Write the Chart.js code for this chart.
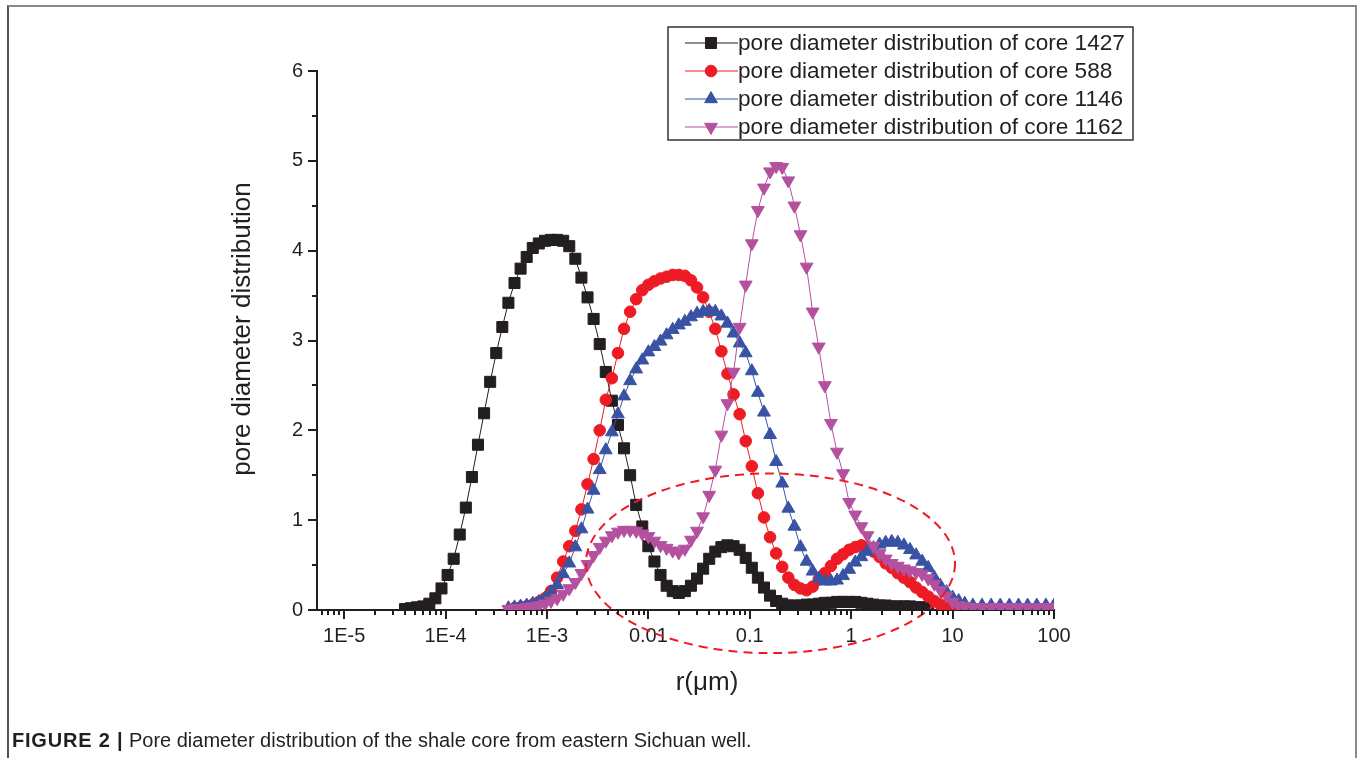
<!DOCTYPE html>
<html lang="en">
<head>
  <meta charset="UTF-8">
  <title>Pore diameter distribution</title>
  <script src="https://cdn.jsdelivr.net/npm/chart.js"></script>
  <style>
    body {
      margin: 0;
      background: #ffffff;
      font-family: 'Liberation Sans', Arial, sans-serif;
    }
    .page {
      position: relative;
      width: 1360px;
      height: 758px;
      overflow: hidden;
    }
    .frame {
      position: absolute;
      left: 7px;
      top: 5px;
      width: 1346px;
      height: 800px;
      border-top: 2px solid #8a8a8a;
      border-left: 2px solid #555;
      border-right: 2px solid #8a8a8a;
    }
    .chart-box {
      position: absolute;
      left: 0;
      top: 0;
      width: 1360px;
      height: 758px;
    }
    .caption {
      position: absolute;
      left: 12px;
      top: 729px;
      font-size: 20px;
      color: #231f20;
      white-space: nowrap;
    }
    .caption b { font-weight: bold; letter-spacing: 0.8px; }
  </style>
</head>
<body>
  <div class="page">
    <div class="frame"></div>
    <div class="chart-box"><canvas id="poreChart"></canvas></div>
    <div class="caption"><b>FIGURE 2 |</b> Pore diameter distribution of the shale core from eastern Sichuan well.</div>
  </div>

  <script>
    // pore radius grid, log10 of r in µm
    const rExp = [
      -4.40, -4.34, -4.28, -4.22, -4.16, -4.10, -4.04, -3.98, -3.92, -3.86,
      -3.80, -3.74, -3.68, -3.62, -3.56, -3.50, -3.44, -3.38, -3.32, -3.26,
      -3.20, -3.14, -3.08, -3.02, -2.96, -2.90, -2.84, -2.78, -2.72, -2.66,
      -2.60, -2.54, -2.48, -2.42, -2.36, -2.30, -2.24, -2.18, -2.12, -2.06,
      -2.00, -1.94, -1.88, -1.82, -1.76, -1.70, -1.64, -1.58, -1.52, -1.46,
      -1.40, -1.34, -1.28, -1.22, -1.16, -1.10, -1.04, -0.98, -0.92, -0.86,
      -0.80, -0.74, -0.68, -0.62, -0.56, -0.50, -0.44, -0.38, -0.32, -0.26,
      -0.20, -0.14, -0.08, -0.02, 0.04, 0.10, 0.16, 0.22, 0.28, 0.34,
      0.40, 0.46, 0.52, 0.58, 0.64, 0.70, 0.76, 0.82, 0.88, 0.94,
      1.00, 1.06, 1.12, 1.20, 1.29, 1.38, 1.47, 1.56, 1.65, 1.74,
      1.83, 1.92, 2.00
    ];

    const core1427 = [
      0.01, 0.02, 0.03, 0.04, 0.07, 0.13, 0.24, 0.39, 0.57, 0.84,
      1.14, 1.48, 1.84, 2.19, 2.54, 2.86, 3.15, 3.42, 3.64, 3.80,
      3.93, 4.03, 4.08, 4.11, 4.12, 4.12, 4.11, 4.05, 3.91, 3.70,
      3.48, 3.24, 2.96, 2.65, 2.33, 2.06, 1.80, 1.50, 1.17, 0.93,
      0.71, 0.54, 0.39, 0.27, 0.21, 0.19, 0.21, 0.27, 0.35, 0.46,
      0.57, 0.65, 0.70, 0.72, 0.71, 0.67, 0.58, 0.47, 0.36, 0.25,
      0.16, 0.10, 0.07, 0.05, 0.05, 0.05, 0.06, 0.06, 0.07, 0.08,
      0.08, 0.09, 0.09, 0.09, 0.09, 0.08, 0.07, 0.06, 0.05, 0.05,
      0.04, 0.04, 0.04, 0.04, 0.03, 0.03, 0.03,
      null, null, null, null, null, null, null, null, null, null,
      null, null, null, null, null, null
    ];

    const core588 = [
      null, null, null, null, null, null, null, null, null, null,
      null, null, null, null, null, null, null, null, 0.02, 0.03,
      0.04, 0.06, 0.09, 0.13, 0.21, 0.36, 0.54, 0.71, 0.88, 1.12,
      1.40, 1.68, 2.00, 2.34, 2.58, 2.86, 3.13, 3.32, 3.46, 3.56,
      3.62, 3.66, 3.69, 3.71, 3.73, 3.73, 3.72, 3.67, 3.59, 3.48,
      3.32, 3.13, 2.88, 2.63, 2.40, 2.18, 1.88, 1.60, 1.30, 1.03,
      0.81, 0.63, 0.48, 0.36, 0.28, 0.24, 0.22, 0.26, 0.34, 0.41,
      0.49, 0.57, 0.62, 0.67, 0.70, 0.72, 0.70, 0.65, 0.59, 0.52,
      0.47, 0.41, 0.36, 0.31, 0.25, 0.20, 0.15, 0.10, 0.06, 0.04,
      0.02, null, null, null, null, null, null, null, null, null,
      null, null, null
    ];

    const core1146 = [
      null, null, null, null, null, null, null, null, null, null,
      null, null, null, null, null, null, null, 0.02, 0.03, 0.04,
      0.05, 0.07, 0.09, 0.13, 0.20, 0.28, 0.40, 0.52, 0.70, 0.90,
      1.12, 1.33, 1.56, 1.78, 1.98, 2.18, 2.38, 2.55, 2.68, 2.78,
      2.87, 2.93, 2.99, 3.06, 3.12, 3.17, 3.21, 3.26, 3.30, 3.32,
      3.33, 3.32, 3.27, 3.19, 3.08, 2.97, 2.86, 2.66, 2.42, 2.20,
      1.95, 1.65, 1.41, 1.13, 0.93, 0.70, 0.54, 0.43, 0.35, 0.32,
      0.32, 0.33, 0.38, 0.45, 0.53, 0.59, 0.65, 0.69, 0.73, 0.75,
      0.76, 0.75, 0.72, 0.67, 0.61, 0.54, 0.47, 0.36, 0.27, 0.20,
      0.14, 0.10, 0.07, 0.05, 0.05, 0.05, 0.05, 0.05, 0.05, 0.05,
      0.05, 0.05, 0.05
    ];

    const core1162 = [
      null, null, null, null, null, null, null, null, null, null,
      null, null, null, null, null, null, null, 0.01, 0.02, 0.02,
      0.03, 0.04, 0.05, 0.07, 0.10, 0.13, 0.18, 0.24, 0.31, 0.41,
      0.51, 0.61, 0.70, 0.77, 0.83, 0.87, 0.89, 0.89, 0.88, 0.85,
      0.82, 0.77, 0.72, 0.69, 0.66, 0.64, 0.68, 0.78, 0.88, 1.04,
      1.28, 1.56, 1.95, 2.30, 2.65, 3.15, 3.62, 4.08, 4.45, 4.70,
      4.88, 4.94, 4.93, 4.78, 4.50, 4.18, 3.82, 3.32, 2.93, 2.50,
      2.08, 1.76, 1.52, 1.20, 1.06, 0.93, 0.83, 0.71, 0.63, 0.57,
      0.52, 0.49, 0.46, 0.44, 0.42, 0.40, 0.35, 0.29, 0.22, 0.16,
      0.09, 0.05, 0.04, 0.03, 0.03, 0.03, 0.03, 0.03, 0.03, 0.03,
      0.03, 0.03, 0.03
    ];

    const seriesLabels = [
      'pore diameter distribution of core 1427',
      'pore diameter distribution of core 588',
      'pore diameter distribution of core 1146',
      'pore diameter distribution of core 1162'
    ];

    // axis ticks
    const xDecades = [1e-5, 1e-4, 1e-3, 0.01, 0.1, 1, 10, 100];
    const xDecadeLabels = ['1E-5', '1E-4', '1E-3', '0.01', '0.1', '1', '10', '100'];
    const yTickLabels = ['0', '1', '2', '3', '4', '5', '6'];

    // dashed ellipse marking the large-pore region (centre r, centre y, half width in decades, half height)
    const ellipseRegion = { r: 0.16, y: 0.52, halfDecades: 1.82, halfY: 1.0 };

    const xMin = 5.4e-6, xMax = 100;
    const ink = '#231f20';
    const fontFamily = '"Liberation Sans", Arial, sans-serif';

    function toPoints(values) {
      return values.map((v, i) => ({ x: Math.pow(10, rExp[i]), y: v }));
    }

    const styles = [
      { color: '#231f20', pointStyle: 'rect', radius: 7.8, rotation: 0 },
      { color: '#ed1c24', pointStyle: 'circle', radius: 5.8, rotation: 0 },
      { color: '#3953a4', pointStyle: 'triangle', radius: 7.4, rotation: 0 },
      { color: '#b4519f', pointStyle: 'triangle', radius: 7.4, rotation: 180 }
    ];
    const seriesValues = [core1427, core588, core1146, core1162];
    // later series are painted on top, as in the original
    const drawOrder = [3, 2, 1, 0];

    const datasets = seriesValues.map((vals, i) => ({
      label: seriesLabels[i],
      data: toPoints(vals),
      borderColor: styles[i].color,
      backgroundColor: styles[i].color,
      borderWidth: 1,
      pointStyle: styles[i].pointStyle,
      pointRadius: styles[i].radius,
      pointRotation: styles[i].rotation,
      pointBorderWidth: 1,
      pointBorderColor: styles[i].color,
      pointBackgroundColor: styles[i].color,
      tension: 0,
      spanGaps: false,
      order: drawOrder[i]
    }));

    // tick marks drawn outward, long at labelled values; axis titles
    const axisTicks = {
      id: 'axisTicks',
      afterDraw(chart) {
        const { ctx, chartArea } = chart;
        const x = chart.scales.x, y = chart.scales.y;
        ctx.save();
        ctx.strokeStyle = ink;
        ctx.lineWidth = 2;
        ctx.beginPath();
        x.ticks.forEach(t => {
          const px = Math.round(x.getPixelForValue(t.value));
          const len = t.major ? 9 : 5;
          ctx.moveTo(px, chartArea.bottom);
          ctx.lineTo(px, chartArea.bottom + len);
        });
        y.ticks.forEach(t => {
          const py = Math.round(y.getPixelForValue(t.value));
          const len = Number.isInteger(t.value) ? 9 : 5;
          ctx.moveTo(chartArea.left, py);
          ctx.lineTo(chartArea.left - len, py);
        });
        ctx.stroke();

        ctx.fillStyle = ink;
        ctx.textAlign = 'center';
        ctx.textBaseline = 'middle';
        ctx.font = '26px ' + fontFamily;
        ctx.fillText('r(μm)', 707, 683);

        ctx.translate(243, 329);
        ctx.rotate(-Math.PI / 2);
        ctx.font = '26px ' + fontFamily;
        ctx.fillText('pore diameter distribution', 0, 0);
        ctx.restore();
      }
    };

    const regionEllipse = {
      id: 'regionEllipse',
      afterDatasetsDraw(chart) {
        const { ctx } = chart;
        const x = chart.scales.x, y = chart.scales.y;
        const e = ellipseRegion;
        const cx = x.getPixelForValue(e.r);
        const cy = y.getPixelForValue(e.y);
        const rx = x.getPixelForValue(e.r * Math.pow(10, e.halfDecades)) - cx;
        const ry = cy - y.getPixelForValue(e.y + e.halfY);
        ctx.save();
        ctx.strokeStyle = '#ed1c24';
        ctx.lineWidth = 2;
        ctx.setLineDash([9, 6]);
        ctx.beginPath();
        ctx.ellipse(cx, cy, rx, ry, 0, 0, Math.PI * 2);
        ctx.stroke();
        ctx.restore();
      }
    };

    // boxed legend with line + marker samples
    const boxLegend = {
      id: 'boxLegend',
      afterDraw(chart) {
        const { ctx } = chart;
        const left = 668, top = 27, width = 465, height = 113;
        ctx.save();
        ctx.fillStyle = '#ffffff';
        ctx.fillRect(left, top, width, height);
        ctx.strokeStyle = '#333333';
        ctx.lineWidth = 1.5;
        ctx.strokeRect(left, top, width, height);
        ctx.font = '22.6px ' + fontFamily;
        ctx.textBaseline = 'middle';
        seriesLabels.forEach((label, i) => {
          const rowY = top + 16 + i * 28;
          const st = styles[i];
          ctx.strokeStyle = st.color;
          ctx.lineWidth = 1;
          ctx.beginPath();
          ctx.moveTo(685, rowY);
          ctx.lineTo(738, rowY);
          ctx.stroke();
          ctx.fillStyle = st.color;
          Chart.helpers.drawPoint(ctx, {
            pointStyle: st.pointStyle, rotation: st.rotation,
            radius: st.radius, borderWidth: 1
          }, 711, rowY);
          ctx.fillStyle = ink;
          ctx.fillText(label, 738, rowY + 1);
        });
        ctx.restore();
      }
    };

    new Chart(document.getElementById('poreChart'), {
      type: 'line',
      data: { datasets },
      options: {
        responsive: true,
        maintainAspectRatio: false,
        animation: false,
        layout: { padding: { left: 0, right: 306, top: 71, bottom: 0 } },
        plugins: {
          legend: { display: false },
          tooltip: { enabled: false }
        },
        scales: {
          x: {
            type: 'logarithmic',
            min: xMin,
            max: xMax,
            afterFit: s => { s.height = 148; },
            afterBuildTicks: s => {
              const ticks = [];
              [1e-6, 1e-5, 1e-4, 1e-3, 0.01, 0.1, 1, 10].forEach(d => {
                for (let m = 1; m <= 9; m++) {
                  const v = d * m;
                  if (v >= xMin && v <= xMax * 1.0001) ticks.push({ value: v, major: m === 1 });
                }
              });
              ticks.push({ value: 100, major: true });
              s.ticks = ticks;
            },
            grid: { display: true, drawOnChartArea: false, drawTicks: false, color: 'rgba(0,0,0,0)' },
            border: { display: true, color: ink, width: 2 },
            ticks: {
              autoSkip: false,
              maxRotation: 0,
              padding: 14,
              color: ink,
              font: { family: fontFamily, size: 20 },
              callback: (v) => {
                const k = xDecades.findIndex(d => Math.abs(Math.log10(v) - Math.log10(d)) < 1e-6);
                return k >= 0 ? xDecadeLabels[k] : '';
              }
            }
          },
          y: {
            min: 0,
            max: 6,
            afterFit: s => { s.width = 317; },
            grid: { display: true, drawOnChartArea: false, drawTicks: false, color: 'rgba(0,0,0,0)' },
            border: { display: true, color: ink, width: 2 },
            ticks: {
              stepSize: 0.5,
              padding: 14,
              color: ink,
              font: { family: fontFamily, size: 20 },
              callback: (v) => Number.isInteger(v) ? yTickLabels[v] : ''
            }
          }
        }
      },
      plugins: [axisTicks, regionEllipse, boxLegend]
    });
  </script>
</body>
</html>
